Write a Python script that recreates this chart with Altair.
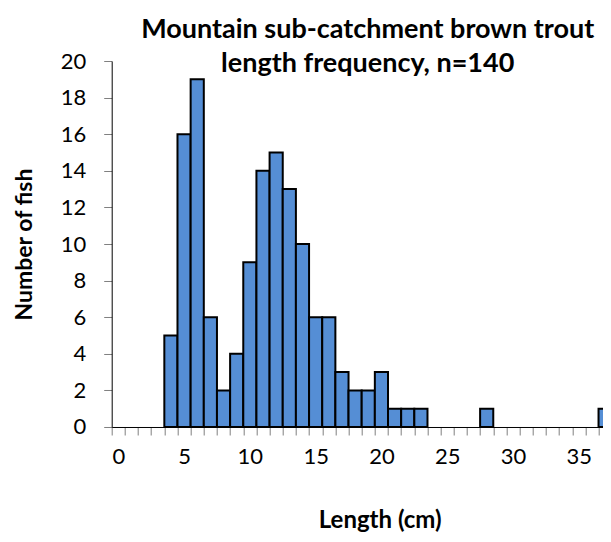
import altair as alt
import pandas as pd

lengths = list(range(0, 38))
counts = [0, 0, 0, 0, 5, 16, 19, 6, 2, 4, 9, 14, 15, 13, 10, 6, 6, 3, 2, 2, 3,
          1, 1, 1, 0, 0, 0, 0, 1, 0, 0, 0, 0, 0, 0, 0, 0, 1]
x_ticks = list(range(0, 39))
y_ticks = list(range(0, 21, 2))

df = pd.DataFrame({"length": lengths, "count": counts})
df["end"] = df["length"] + 1
df = df[df["count"] > 0]

FONT = "Lato"

chart = alt.Chart(df).mark_bar(
    color="#558ED5", stroke="black", strokeWidth=2
).encode(
    x=alt.X("length:Q",
            scale=alt.Scale(domain=[0, 38], nice=False, zero=False),
            axis=alt.Axis(values=x_ticks,
                          labelExpr="datum.value % 5 == 0 && datum.value < 38 ? datum.label : ''",
                          labelOffset=6.6, tickSize=8, tickColor="#808080",
                          domainColor="black", grid=False,
                          labelFontSize=22, labelFont=FONT, labelColor="black",
                          labelPadding=12, labelFlush=False, labelOverlap=False,
                          title="Length (cm)", titleFont=FONT, titleFontSize=24,
                          titleFontWeight="bold", titleColor="black",
                          titlePadding=41, titleX=268)),
    x2="end:Q",
    y=alt.Y("count:Q",
            scale=alt.Scale(domain=[0, 20], nice=False),
            axis=alt.Axis(values=y_ticks, tickSize=8, tickColor="#808080",
                          domainColor="black", grid=False,
                          labelFontSize=22, labelFont=FONT, labelColor="black",
                          labelPadding=18, labelFlush=False,
                          title="Number of fish", titleFont=FONT, titleFontSize=23,
                          titleFontWeight="bold", titleColor="black",
                          titlePadding=24)),
    y2=alt.datum(0),
).properties(
    width=500, height=366,
    title=alt.TitleParams(
        text=["Mountain sub-catchment brown trout", "length frequency, n=140"],
        font=FONT, fontSize=27, fontWeight="bold", color="black",
        anchor="middle", dx=6, offset=-28, lineHeight=34),
    autosize=alt.AutoSizeParams(type="none"),
    padding={"left": 103.7, "top": 53, "right": -9, "bottom": 107},
).configure_view(stroke=None)

chart.save("out.html", embed_options={"renderer": "svg", "actions": False})
